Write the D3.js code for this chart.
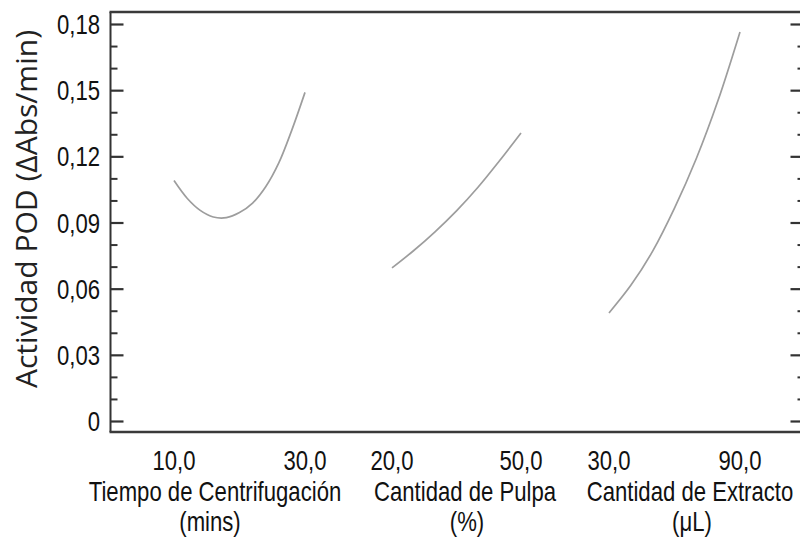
<!DOCTYPE html>
<html><head><meta charset="utf-8">
<script src="https://cdn.jsdelivr.net/npm/d3@7"></script>
<style>body{margin:0;background:#fff}svg{display:block}</style>
</head><body>
<svg id="c" width="800" height="541"></svg>
<script>
// ---- data ----
const yTicks = [0, 0.03, 0.06, 0.09, 0.12, 0.15, 0.18];
const yTickLabels = ["0", "0,03", "0,06", "0,09", "0,12", "0,15", "0,18"];
const yMinor = [0.01,0.02,0.04,0.05,0.07,0.08,0.10,0.11,0.13,0.14,0.16,0.17];

const factorNames = ["Tiempo de Centrifugación", "Cantidad de Pulpa", "Cantidad de Extracto"];
const factorUnits = ["(mins)", "(%)", "(\u03bcL)"];
const factorRanges = [[10, 30], [20, 50], [30, 90]];
const factorTickLabels = [["10,0", "30,0"], ["20,0", "50,0"], ["30,0", "90,0"]];

const tiempoX = [10, 12, 14, 16, 18, 20, 22, 24, 26, 28, 30];
const tiempoY = [0.109, 0.101, 0.0955, 0.0925, 0.0922, 0.0945, 0.0988, 0.1062, 0.117, 0.132, 0.149];
const pulpaX = [20, 25, 30, 35, 40, 45, 50];
const pulpaY = [0.0694, 0.0772, 0.0858, 0.0953, 0.1060, 0.1180, 0.1306];
const extractoX = [30, 40, 50, 60, 70, 80, 90];
const extractoY = [0.049, 0.0615, 0.077, 0.0965, 0.119, 0.1455, 0.1764];

// ---- layout ----
const svg = d3.select("#c");
const L = 110.5, R = 800.5, T = 12, B = 432;
const y = d3.scaleLinear().domain([0, 0.18]).range([421, 24]);
const panelRanges = [[174, 305], [392, 521], [609, 740]];
const labelCenters = [215, 465, 690];
const xs = factorRanges.map((d, i) => d3.scaleLinear().domain(d).range(panelRanges[i]));
const series = [[tiempoX, tiempoY], [pulpaX, pulpaY], [extractoX, extractoY]];

// frame
svg.append("line").attr("x1", L).attr("x2", L).attr("y1", T).attr("y2", B)
  .attr("stroke", "#333").attr("stroke-width", 2);
svg.append("line").attr("x1", L - 1).attr("x2", 800).attr("y1", T).attr("y2", T)
  .attr("stroke", "#3a3a3a").attr("stroke-width", 2.5);
svg.append("line").attr("x1", L - 1).attr("x2", 800).attr("y1", B).attr("y2", B)
  .attr("stroke", "#3a3a3a").attr("stroke-width", 2.5);

function tickAxis(axis, x, vals, size, w) {
  const g = svg.append("g").attr("transform", `translate(${x},0)`)
    .call(axis(y).tickValues(vals).tickSize(size).tickFormat(""));
  g.select(".domain").remove();
  g.selectAll(".tick line").attr("stroke", "#333").attr("stroke-width", w);
}
tickAxis(d3.axisRight, L, yTicks, 13, 2.2);
tickAxis(d3.axisRight, L, yMinor, 7, 2);
tickAxis(d3.axisLeft, R, yTicks, 10, 2.2);
tickAxis(d3.axisLeft, R, yMinor, 3, 2);

const fnt = "'Liberation Sans', Arial, sans-serif";
function narrowText(txt, x, yy, anchor, fs, sc) {
  svg.append("text").attr("transform", `translate(${x},${yy}) scale(${sc},1)`)
    .attr("text-anchor", anchor).attr("font-family", fnt).attr("font-size", fs)
    .attr("fill", "#111").text(txt);
}
yTicks.forEach((v, i) => narrowText(yTickLabels[i], 100, y(v) + 10, "end", 28, 0.79));

xs.forEach((sx, i) => {
  factorRanges[i].forEach((v, j) => narrowText(factorTickLabels[i][j], sx(v), 470, "middle", 28, 0.79));
  narrowText(factorNames[i], labelCenters[i], 501, "middle", 27, 0.82);
  narrowText(factorUnits[i], labelCenters[i] + (i === 0 ? -5 : 2), 531, "middle", 27, 0.82);
});

// y title
svg.append("text").attr("transform", "translate(37,209) rotate(-90)")
  .attr("text-anchor", "middle").attr("font-family", "'Open Sans', sans-serif")
  .attr("font-size", 29).attr("fill", "#222").attr("textLength", 358)
  .attr("lengthAdjust", "spacingAndGlyphs").text("Actividad POD (\u0394Abs/min)");

// curves
const line = d3.line().curve(d3.curveCatmullRom.alpha(0.5));
series.forEach(([xv, yv], i) => {
  svg.append("path").attr("d", line(xv.map((d, k) => [xs[i](d), y(yv[k])])))
    .attr("fill", "none").attr("stroke", "#9d9d9d").attr("stroke-width", 1.7);
});
</script>
</body></html>
